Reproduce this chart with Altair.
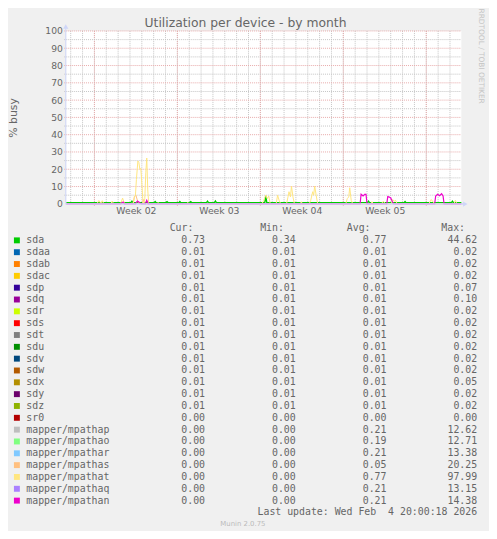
"""
Munin disk utilization graph (month view) rebuilt with Altair
"""

import altair as alt
import pandas as pd

FONT_COLOR = "#666666"
AXIS_COLOR = "#CFD6F8"
GRID_MINOR = "#C4C4C4"
GRID_MAJOR = "#E8AAAA"

# legend table
DEVICES = [
    "sda", "sdaa", "sdab", "sdac", "sdp", "sdq", "sdr", "sds", "sdt", "sdu",
    "sdv", "sdw", "sdx", "sdy", "sdz", "sr0",
    "mapper/mpathap", "mapper/mpathao", "mapper/mpathar", "mapper/mpathas",
    "mapper/mpathat", "mapper/mpathaq", "mapper/mpathan",
]
COLORS = [
    "#00CC00", "#0066B3", "#FF8000", "#FFCC00", "#330099", "#990099", "#CCFF00",
    "#FF0000", "#808080", "#008F00", "#00487D", "#B35A00", "#B38F00", "#6B006B",
    "#8FB300", "#B30000", "#BEBEBE", "#80FF80", "#80C9FF", "#FFC080", "#FFE680",
    "#AA80FF", "#EE00CC",
]
CUR = [0.73] + [0.01] * 14 + [0.00] + [0.00] * 7
MIN = [0.34] + [0.01] * 14 + [0.00] + [0.00] * 7
AVG = [0.77] + [0.01] * 14 + [0.00] + [0.21, 0.19, 0.21, 0.05, 0.77, 0.21, 0.21]
MAX = [44.62, 0.02, 0.02, 0.02, 0.07, 0.10, 0.02, 0.02, 0.02, 0.02, 0.02, 0.02,
       0.05, 0.02, 0.02, 0.00, 12.62, 12.71, 13.38, 20.25, 97.99, 13.15, 14.38]
COLUMNS = ["Cur", "Min", "Avg", "Max"]

# axes
Y_TICKS = [0, 10, 20, 30, 40, 50, 60, 70, 80, 90, 100]
Y_MINOR = [5, 15, 25, 35, 45, 55, 65, 75, 85, 95]
WEEK_STARTS = ["01-05 00:00", "01-12 00:00", "01-19 00:00", "01-26 00:00", "02-02 00:00"]
WEEK_MIDDLES = ["01-08 12:00", "01-15 12:00", "01-22 12:00", "01-29 12:00"]
RANGE_START = "01-02 15:00"
RANGE_END = "02-04 23:00"

# series (time UTC 2026, % busy)
SDA = [
    ("01-02 15:00", 0.7),
    ("01-08 02:00", 0.7), ("01-08 04:00", 1.5), ("01-08 06:00", 0.7),
    ("01-10 01:00", 0.7), ("01-10 03:00", 1.3), ("01-10 05:00", 0.7),
    ("01-11 01:00", 0.7), ("01-11 03:00", 1.2), ("01-11 05:00", 0.7),
    ("01-12 03:00", 0.7), ("01-12 05:00", 1.3), ("01-12 07:00", 0.7),
    ("01-13 01:00", 0.7), ("01-13 03:00", 1.2), ("01-13 05:00", 0.7),
    ("01-14 11:00", 0.7), ("01-14 13:00", 1.5), ("01-14 15:00", 0.7),
    ("01-15 03:00", 0.7), ("01-15 05:00", 1.6), ("01-15 07:00", 0.7),
    ("01-19 09:00", 0.7), ("01-19 11:00", 4.6), ("01-19 13:00", 0.7),
    ("01-28 01:00", 0.7), ("01-28 03:00", 1.5), ("01-28 05:00", 0.7),
    ("01-31 03:00", 0.7), ("01-31 05:00", 1.3), ("01-31 07:00", 0.7),
    ("02-04 03:00", 0.7), ("02-04 05:00", 1.5), ("02-04 07:00", 0.7),
    ("02-04 23:00", 0.7),
]
MPATHAS = [
    ("01-02 15:00", 0), ("01-08 06:00", 0), ("01-08 09:00", 4), ("01-08 12:00", 5),
    ("01-08 15:00", 2), ("01-08 18:00", 0), ("01-09 01:00", 0), ("01-09 03:00", 2.5),
    ("01-09 05:00", 0), ("02-04 23:00", 0),
]
MPATHAT = [
    ("01-02 15:00", 0), ("01-05 05:00", 0), ("01-05 09:00", 1.9), ("01-05 13:00", 0.3),
    ("01-05 16:00", 1.8), ("01-05 19:00", 0), ("01-06 09:00", 0), ("01-06 12:00", 1.5),
    ("01-06 15:00", 0), ("01-07 05:00", 0), ("01-07 09:00", 3.3), ("01-07 13:00", 0),
    ("01-08 07:00", 0), ("01-08 09:00", 4.5), ("01-08 11:00", 4.8), ("01-08 13:00", 14),
    ("01-08 16:00", 24.8), ("01-08 18:00", 24), ("01-08 20:00", 20), ("01-08 22:00", 20.5),
    ("01-09 00:00", 12), ("01-09 02:00", 2), ("01-09 04:00", 0), ("01-09 06:00", 3),
    ("01-09 08:00", 18), ("01-09 10:00", 26.5), ("01-09 12:00", 8), ("01-09 14:00", 0),
    ("01-10 07:00", 0), ("01-10 09:00", 0.8), ("01-10 11:00", 0),
    ("01-12 19:00", 0), ("01-12 21:00", 0.8), ("01-12 23:00", 0),
    ("01-19 03:00", 0), ("01-19 07:00", 2), ("01-19 11:00", 5.1), ("01-19 14:00", 3),
    ("01-19 17:00", 4.5), ("01-19 20:00", 0),
    ("01-20 08:00", 0), ("01-20 11:00", 5), ("01-20 14:00", 2), ("01-20 17:00", 0),
    ("01-21 05:00", 0), ("01-21 08:00", 4), ("01-21 10:00", 7), ("01-21 13:00", 4),
    ("01-21 15:00", 10.3), ("01-21 18:00", 4), ("01-21 21:00", 0),
    ("01-22 09:00", 0), ("01-22 11:00", 1.2), ("01-22 13:00", 0),
    ("01-23 03:00", 0), ("01-23 06:00", 2), ("01-23 10:00", 7), ("01-23 12:00", 5),
    ("01-23 14:00", 10.3), ("01-23 17:00", 5), ("01-23 20:00", 0),
    ("01-26 05:00", 0), ("01-26 08:00", 3), ("01-26 11:00", 4), ("01-26 13:00", 9.3),
    ("01-26 16:00", 2), ("01-26 19:00", 0),
    ("01-28 08:00", 0), ("01-28 10:00", 1.2), ("01-28 13:00", 0),
    ("01-29 05:00", 0), ("01-29 09:00", 1.5), ("01-29 13:00", 0),
    ("01-30 01:00", 0), ("01-30 04:00", 2.5), ("01-30 07:00", 1.5), ("01-30 10:00", 2),
    ("01-30 13:00", 0),
    ("02-02 05:00", 0), ("02-02 10:00", 2.5), ("02-02 14:00", 1), ("02-02 17:00", 0),
    ("02-04 08:00", 0), ("02-04 11:00", 2), ("02-04 14:00", 0), ("02-04 23:00", 0),
]
MPATHAN = [
    ("01-02 15:00", 0), ("01-07 05:00", 0), ("01-07 10:00", 1), ("01-07 13:00", 0),
    ("01-08 11:00", 0), ("01-08 15:00", 1.6), ("01-08 18:00", 1), ("01-08 21:00", 0.3),
    ("01-09 00:00", 0), ("01-09 07:00", 0), ("01-09 10:00", 2), ("01-09 13:00", 0),
    ("01-27 10:00", 0), ("01-27 12:00", 5.5), ("01-27 16:00", 4.5), ("01-27 20:00", 5.6),
    ("01-27 22:00", 5.4), ("01-28 00:00", 0),
    ("01-29 16:00", 0), ("01-29 18:00", 4.2), ("01-29 21:00", 3.9), ("01-30 00:00", 3.4),
    ("01-30 03:00", 1.5), ("01-30 06:00", 0),
    ("02-02 17:00", 0), ("02-02 19:00", 4.5), ("02-02 23:00", 5.5), ("02-03 03:00", 4.7),
    ("02-03 07:00", 5.8), ("02-03 10:00", 4.5), ("02-03 12:00", 0), ("02-04 23:00", 0),
]


def iso(t):
    return f"2026-{t[:5]}T{t[6:]}:00Z"


def ms(t):
    return int(pd.Timestamp(iso(t)).timestamp() * 1000)


x_scale = alt.Scale(type="utc", domain=[ms(RANGE_START), ms(RANGE_END)])
y_scale = alt.Scale(domain=[0, 100], nice=False)

# grid
days = pd.date_range("2026-01-03", "2026-02-04", freq="D", tz="UTC")
day_df = pd.DataFrame({"t": days.strftime("%Y-%m-%dT%H:%M:%SZ")})
week_df = pd.DataFrame({"t": [iso(t) for t in WEEK_STARTS]})

day_rules = alt.Chart(day_df).mark_rule(color=GRID_MINOR, strokeDash=[1, 1]).encode(
    x=alt.X("t:T", scale=x_scale, axis=None), y=alt.value(0), y2=alt.value(175)
)
week_rules = alt.Chart(week_df).mark_rule(color=GRID_MAJOR, strokeDash=[1, 1]).encode(
    x=alt.X("t:T", scale=x_scale, axis=None), y=alt.value(0), y2=alt.value(178)
)
y_minor_rules = alt.Chart(pd.DataFrame({"v": Y_MINOR})).mark_rule(
    color=GRID_MINOR, strokeDash=[1, 1]
).encode(y=alt.Y("v:Q", scale=y_scale, axis=None), x=alt.value(-2), x2=alt.value(400))
y_major_rules = alt.Chart(pd.DataFrame({"v": Y_TICKS[1:]})).mark_rule(
    color=GRID_MAJOR, strokeDash=[1, 1]
).encode(y=alt.Y("v:Q", scale=y_scale, axis=None), x=alt.value(-2), x2=alt.value(400))

x_axis = alt.Axis(
    orient="bottom", values=[ms(t) for t in WEEK_MIDDLES], format="Week %V",
    labelFont="DejaVu Sans", labelFontSize=9.4, labelColor=FONT_COLOR, labelPadding=3,
    labelFlush=False, labelOverlap=False, ticks=False, domain=False, grid=False, title=None,
)
y_axis = alt.Axis(
    orient="left", values=Y_TICKS, labelFont="DejaVu Sans", labelFontSize=9.3,
    labelColor=FONT_COLOR, labelPadding=4, labelFlush=False, labelOverlap=False,
    ticks=False, domain=False, grid=False, title="% busy", titleFont="DejaVu Sans",
    titleFontSize=11, titleFontWeight="normal", titleColor=FONT_COLOR,
    titleX=-53.5, titleY=87.5, titleAngle=270, titleAlign="center", titleBaseline="middle",
)


def series_line(points, color, width=1.0, with_axes=False):
    df = pd.DataFrame({"t": [iso(p[0]) for p in points], "v": [p[1] for p in points]})
    return alt.Chart(df).mark_line(color=color, strokeWidth=width).encode(
        x=alt.X("t:T", scale=x_scale, axis=x_axis if with_axes else None),
        y=alt.Y("v:Q", scale=y_scale, axis=y_axis if with_axes else None),
        order="t:T",
    )


lines = [
    series_line(SDA, COLORS[0], width=1.4, with_axes=True),
    series_line(MPATHAS, COLORS[19]),
    series_line(MPATHAT, COLORS[20]),
    series_line(MPATHAN, COLORS[22], width=1.2),
]

one = pd.DataFrame({"k": [0]})
y_axis_line = alt.Chart(one).mark_rule(color=AXIS_COLOR).encode(
    x=alt.value(-0.5), y=alt.value(-5), y2=alt.value(175.5)
)
x_axis_line = alt.Chart(one).mark_rule(color=AXIS_COLOR, strokeWidth=1.3).encode(
    x=alt.value(-0.5), x2=alt.value(403), y=alt.value(175.2)
)
up_arrow = alt.Chart(one).mark_point(shape="triangle-up", size=28, filled=True,
                                     color=AXIS_COLOR, opacity=1).encode(
    x=alt.value(-0.5), y=alt.value(-4.5)
)
right_arrow = alt.Chart(one).mark_point(shape="triangle-right", size=28, filled=True,
                                        color=AXIS_COLOR, opacity=1).encode(
    x=alt.value(404), y=alt.value(175.2)
)

# legend table below the graph
legend_df = pd.DataFrame({"name": DEVICES})
values_df = pd.DataFrame([
    {"name": n, "col": c, "text": f"{v:.2f}"}
    for i, n in enumerate(DEVICES)
    for c, v in zip(COLUMNS, [CUR[i], MIN[i], AVG[i], MAX[i]])
])
row_scale = alt.Scale(domain=DEVICES, range=[212, 475.5], padding=0)
col_scale = alt.Scale(domain=COLUMNS, range=[140.5, 416], padding=0)
mono = dict(font="DejaVu Sans Mono", fontSize=10, color=FONT_COLOR, baseline="middle")

squares = alt.Chart(legend_df).mark_square(size=36, opacity=1).encode(
    x=alt.value(-50),
    y=alt.Y("name:N", scale=row_scale, axis=None),
    color=alt.Color("name:N", scale=alt.Scale(domain=DEVICES, range=COLORS), legend=None),
)
names = alt.Chart(legend_df).mark_text(align="left", **mono).encode(
    x=alt.value(-40.5), y=alt.Y("name:N", scale=row_scale, axis=None), text="name:N"
)
values = alt.Chart(values_df).mark_text(align="right", **mono).encode(
    x=alt.X("col:N", scale=col_scale, axis=None),
    y=alt.Y("name:N", scale=row_scale, axis=None),
    text="text:N",
)

header_x = {"Cur": 104.7, "Min": 196.3, "Avg": 284, "Max": 379.7}
headers = [
    alt.Chart(pd.DataFrame({"h": [c + ":"]})).mark_text(align="left", **mono).encode(
        x=alt.value(header_x[c]), y=alt.value(199.5), text="h:N"
    )
    for c in COLUMNS
]

last_update = alt.Chart(
    pd.DataFrame({"s": ["Last update: Wed Feb \u00a04 20:00:18 2026"]})
).mark_text(align="right", **mono).encode(x=alt.value(416), y=alt.value(487), text="s:N")

munin = alt.Chart(pd.DataFrame({"s": ["Munin 2.0.75"]})).mark_text(
    align="center", baseline="middle", font="DejaVu Sans", fontSize=7, color="#BBBBBB"
).encode(x=alt.value(178.8), y=alt.value(499.5), text="s:N")

watermark = alt.Chart(pd.DataFrame({"s": ["RRDTOOL / TOBI OETIKER"]})).mark_text(
    align="center", baseline="middle", angle=90, font="DejaVu Sans", fontSize=7.5,
    color="#C4C4C4"
).encode(x=alt.value(420), y=alt.value(25.5), text="s:N")

title = alt.Chart(pd.DataFrame({"s": ["Utilization per device - by month"]})).mark_text(
    align="center", baseline="alphabetic", font="DejaVu Sans", fontSize=12.5,
    color=FONT_COLOR
).encode(x=alt.value(181.5), y=alt.value(-4), text="s:N")

chart = alt.layer(
    day_rules, week_rules, y_minor_rules, y_major_rules, *lines,
    y_axis_line, x_axis_line, up_arrow, right_arrow,
    squares, names, values, *headers, last_update, munin, watermark, title,
).resolve_scale(
    x="independent", y="independent"
).properties(
    width=400, height=175,
    autosize=alt.AutoSizeParams(type="none"),
    padding={"left": 59, "top": 20, "right": 28, "bottom": 328},
    background="#F0F0F0",
).configure_view(fill="white", stroke=None)

chart.save("out.html", embed_options={"renderer": "svg", "actions": False})
